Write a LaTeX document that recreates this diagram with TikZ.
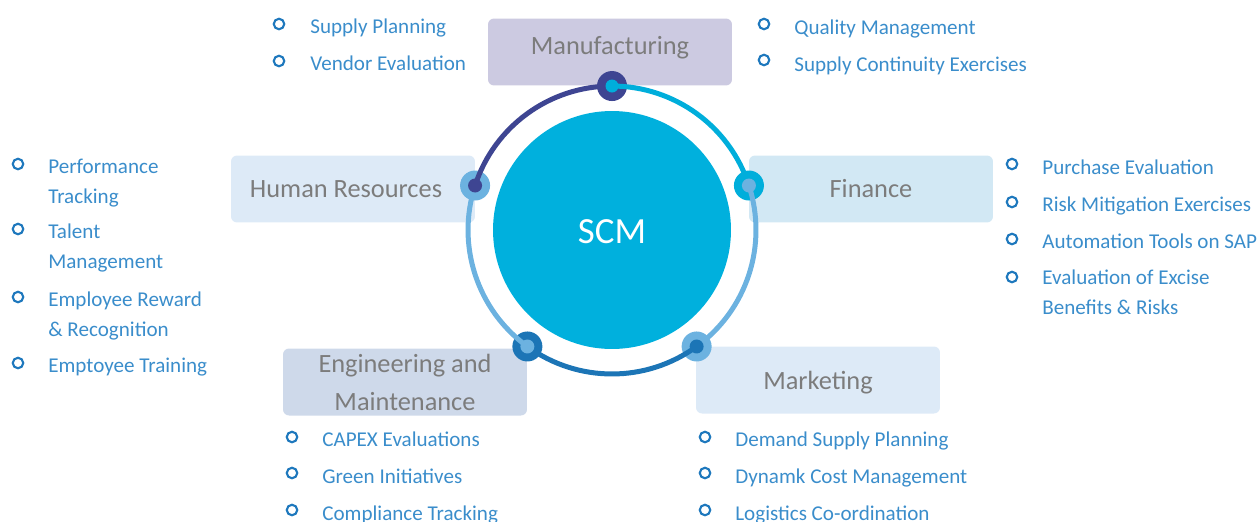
\documentclass[tikz,border=0pt]{standalone}
\usepackage{fontspec}
\setmainfont{Carlito}
\definecolor{scmblue}{HTML}{00B0DD}
\definecolor{ringpurple}{HTML}{3E4592}
\definecolor{ringcyan}{HTML}{00AEDB}
\definecolor{ringlight}{HTML}{6CB2E0}
\definecolor{ringmid}{HTML}{1C75B6}
\definecolor{itemblue}{HTML}{3A8DCB}
\definecolor{dotblue}{HTML}{1E78BD}
\definecolor{labelgray}{HTML}{7C7C7C}
\definecolor{mfbox}{HTML}{CCCAE1}
\definecolor{hrbox}{HTML}{DDEAF7}
\definecolor{finbox}{HTML}{D2E8F4}
\definecolor{engbox}{HTML}{CED9EA}
\definecolor{mktbox}{HTML}{DDEAF7}
\tikzset{
  area/.style={rectangle, rounded corners=0.12cm, minimum width=4.88cm, minimum height=1.34cm,
    inner sep=0pt, text=labelgray, font=\fontsize{15}{21.6}\selectfont, align=center},
  point/.style={circle, draw=dotblue, line width=1.2pt, minimum size=0.21cm, inner sep=0pt},
  entry/.style={anchor=base west, inner sep=0pt, text=itemblue, align=left,
    font=\fontsize{12}{16.8}\selectfont},
  ring/.style={line width=0.1cm}
}
\begin{document}
\begin{tikzpicture}[x=0.02cm, y=-0.02cm, line cap=round]
\useasboundingbox (0,0) rectangle (1257,521);
% department boxes
\node[area, fill=mfbox, text depth=8pt] (mf) at (610,52) {Manufacturing};
\node[area, fill=hrbox] (hr) at (353,189) {Human Resources\hspace*{0.28cm}};
\node[area, fill=finbox] (fin) at (871,189) {Finance};
\node[area, fill=engbox] (eng) at (405,382) {Engineering and\\Maintenance};
\node[area, fill=mktbox, text depth=0pt] (mkt) at (818,380) {Marketing};
% centre
\node[circle, fill=scmblue, minimum size=4.76cm, inner sep=0pt, text=white, text height=15.8pt,
  font=\fontsize{21}{24}\selectfont] (scm) at (612,230) {SCM};
% ring and its five stops
\coordinate (c) at (612,230);
\path (c) ++(90:2.88cm) coordinate (mfdot);
\path (c) ++(162:2.88cm) coordinate (hrdot);
\path (c) ++(18:2.88cm) coordinate (findot);
\path (c) ++(234:2.88cm) coordinate (engdot);
\path (c) ++(306:2.88cm) coordinate (mktdot);
\fill[ringpurple] (mfdot) circle (0.3cm);
\fill[ringlight] (hrdot) circle (0.3cm);
\fill[ringcyan] (findot) circle (0.3cm);
\fill[ringmid] (engdot) circle (0.3cm);
\fill[ringlight] (mktdot) circle (0.3cm);
\draw[ring, ringpurple] (mfdot) arc[start angle=90, end angle=162, radius=2.88cm];
\draw[ring, ringcyan] (mfdot) arc[start angle=90, end angle=18, radius=2.88cm];
\draw[ring, ringlight] (findot) arc[start angle=18, end angle=-54, radius=2.88cm];
\draw[ring, ringlight] (hrdot) arc[start angle=162, end angle=234, radius=2.88cm];
\draw[ring, ringmid] (engdot) arc[start angle=234, end angle=306, radius=2.88cm];
\fill[ringcyan] (mfdot) circle (0.13cm);
\fill[ringpurple] (hrdot) circle (0.14cm);
\fill[ringlight] (findot) circle (0.14cm);
\fill[ringlight] (engdot) circle (0.14cm);
\fill[ringmid] (mktdot) circle (0.14cm);
% manufacturing, left list
\node[point] (p1) at (279,24) {};
\node[entry] (t1) at (310,33) {Supply Planning};
\node[point] (p2) at (279,61) {};
\node[entry] (t2) at (310,70) {Vendor Evaluation};
% manufacturing, right list
\node[point] (p3) at (764,24) {};
\node[entry] (t3) at (794,34) {Quality Management};
\node[point] (p4) at (764,60) {};
\node[entry] (t4) at (794,71) {Supply Continuity Exercises};
% human resources (two-line entries sit on their last baseline)
\node[point] (p5) at (18,164) {};
\node[entry] (t5) at (48,203) {Performance\\Tracking};
\node[point] (p6) at (18,229) {};
\node[entry] (t6) at (48,268) {Talent\\Management};
\node[point] (p7) at (18,297) {};
\node[entry] (t7) at (48,336) {Employee Reward\\\& Recognition};
\node[point] (p8) at (18,363) {};
\node[entry] (t8) at (48,372) {Emptoyee Training};
% finance
\node[point] (p9) at (1012,164) {};
\node[entry] (t9) at (1042,174) {Purchase Evaluation};
\node[point] (p10) at (1012,202) {};
\node[entry] (t10) at (1042,211) {Risk Mitigation Exercises};
\node[point] (p11) at (1012,239) {};
\node[entry] (t11) at (1042,248) {Automation Tools on SAP};
\node[point] (p12) at (1012,277) {};
\node[entry] (t12) at (1042,314) {Evaluation of Excise\\Benefits \& Risks};
% engineering and maintenance
\node[point] (p13) at (292,437) {};
\node[entry] (t13) at (322,446) {CAPEX Evaluations};
\node[point] (p14) at (292,473) {};
\node[entry] (t14) at (322,483) {Green Initiatives};
\node[point] (p15) at (292,510) {};
\node[entry] (t15) at (322,520) {Compliance Tracking};
% marketing
\node[point] (p16) at (705,437) {};
\node[entry] (t16) at (735,446) {Demand Supply Planning};
\node[point] (p17) at (705,473) {};
\node[entry] (t17) at (735,483) {Dynamk Cost Management};
\node[point] (p18) at (705,510) {};
\node[entry] (t18) at (735,520) {Logistics Co-ordination};
\end{tikzpicture}
\end{document}
